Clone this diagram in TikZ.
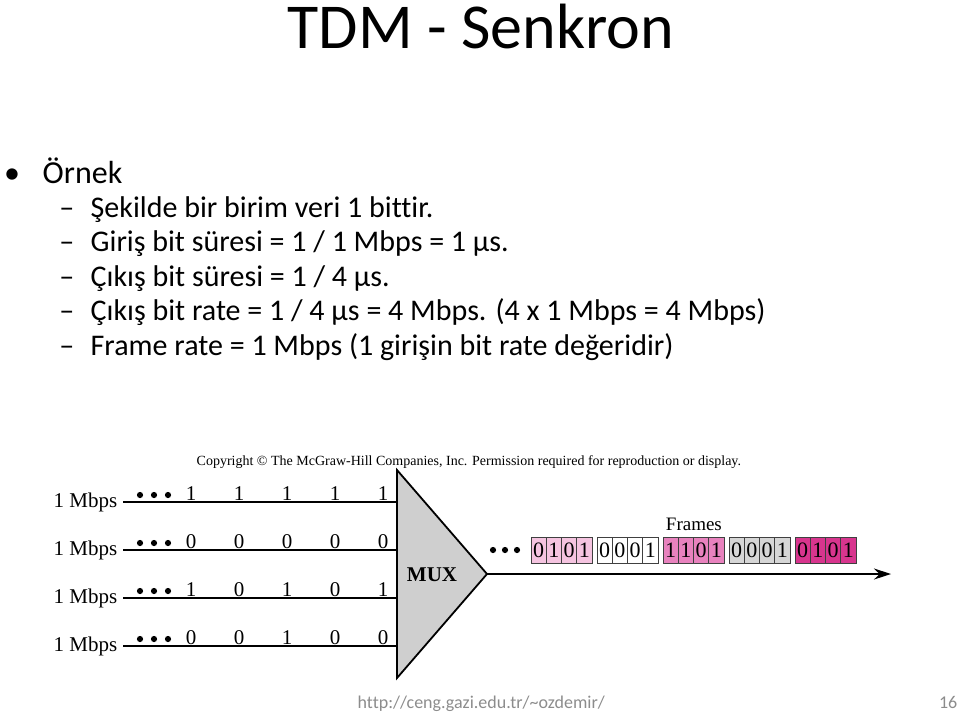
\documentclass[tikz,border=0pt]{standalone}
\usepackage{fontspec}
\setmainfont{Carlito}[Ligatures=CommonOff]
\newfontfamily\figfont{Liberation Serif}
\usetikzlibrary{positioning,arrows.meta,calc}

\definecolor{pinkA}{HTML}{F5C4E0}
\definecolor{pinkB}{HTML}{E882BE}
\definecolor{pinkC}{HTML}{D8358E}
\definecolor{grayA}{HTML}{D6D6D6}
\definecolor{muxgray}{HTML}{CFCFCF}
\definecolor{footgray}{HTML}{8C8C8C}

\begin{document}
\begin{tikzpicture}[
    x=1pt, y=-1pt,
    titletext/.style={inner sep=0pt, anchor=base, font=\fontsize{64}{70}\selectfont},
    itemtext/.style={inner sep=0pt, anchor=base west, font=\fontsize{32}{38}\selectfont},
    subtext/.style={inner sep=0pt, anchor=base west, font=\fontsize{30}{36}\selectfont},
    figtext/.style={inner sep=0pt, font=\figfont\fontsize{21}{24}\selectfont},
    bitlabel/.style={figtext, anchor=base},
    framecell/.style={rectangle, draw=black!75, line width=0.8pt, inner sep=0pt, minimum width=15.25pt, minimum height=26pt, font=\figfont\fontsize{22}{24}\selectfont},
    footer/.style={inner sep=0pt, font=\fontsize{18}{22}\selectfont, text=footgray},
    line width=1.4pt, black
    ]
    \useasboundingbox (0,0) rectangle (960,713);

    %Title and text
    \node[titletext] (title) at (481,48) {TDM - Senkron};
    \node[itemtext, anchor=base] (bullet) at (12,183) {•};
    \node[itemtext] (item) at (42,183) {Örnek};
    \node[subtext] (sub1) at (90,217)   {Şekilde bir birim veri 1 bittir.};
    \node[subtext] (sub2) at (90,251.5) {Giriş bit süresi = 1 / 1 Mbps = 1 µs.};
    \node[subtext] (sub3) at (90,286)   {Çıkış bit süresi = 1 / 4 µs.};
    \node[subtext] (sub4) at (90,320.5) {Çıkış bit rate = 1 / 4 µs = 4 Mbps. (4 x 1 Mbps = 4 Mbps)};
    \node[subtext] (sub5) at (90,355)   {Frame rate = 1 Mbps (1 girişin bit rate değeridir)};
    \foreach \s in {1,...,5}
        \node[subtext, left=15pt of sub\s.base west, anchor=base east] (dash\s) {–};

    % Copyright line
    \node[figtext, anchor=base west, font=\figfont\fontsize{14}{16}\selectfont] (copy) at (196,465)
        {Copyright © The McGraw-Hill Companies, Inc. Permission required for reproduction or display.};

    %MUX
    \coordinate (muxtop) at (397,470);
    \coordinate (muxbot) at (397,678);
    \coordinate (muxtip) at (487,574);
    \filldraw[fill=muxgray, line width=1.8pt, line join=miter] (muxtop) -- (muxtip) -- (muxbot) -- cycle;
    \node[figtext, font=\figfont\bfseries\fontsize{21}{24}\selectfont] (mux) at ($(muxtop)!0.5!(muxbot)+(35,1)$) {MUX};

    %Inputs
    \foreach \r/\bits in {1/{1,1,1,1,1}, 2/{0,0,0,0,0}, 3/{1,0,1,0,1}, 4/{0,0,1,0,0}} {
        \pgfmathsetmacro\ly{502+48*(\r-1)}
        \coordinate (in\r) at (123,\ly);
        \draw (in\r) -- (in\r -| muxtop);
        \node[figtext, left=5pt of in\r] (rate\r) {1 Mbps};
        \foreach \d in {0,1,2}
            \fill ({140+14*\d},\ly-7) circle (3.1);
        \foreach \b [count=\c] in \bits
            \node[bitlabel] (bit\r\c) at ({191+48*(\c-1)},\ly-2) {\b};
    }

    %Output frames
    \foreach \g/\bits/\col in {1/{0,1,0,1}/pinkA, 2/{0,0,0,1}/white, 3/{1,1,0,1}/pinkB, 4/{0,0,0,1}/grayA, 5/{0,1,0,1}/pinkC}
        \foreach \b [count=\c] in \bits
            \node[framecell, fill=\col] (fr\g\c) at ({531+66*(\g-1)+15.25*(\c-0.5)},550) {\b};
    \foreach \d in {0,1,2}
        \fill ({493+12*\d},550) circle (3.1);
    \node[figtext, font=\figfont\fontsize{19}{22}\selectfont, above=5pt of fr32.north east] (frames) {Frames};

    %Lines
    \coordinate (outend) at (891,574);
    \draw[-{Stealth[length=17pt, width=11pt]}] (muxtip) -- (outend);

    % Footer
    \node[footer, anchor=base west] (url) at (357,708) {http://ceng.gazi.edu.tr/\textasciitilde ozdemir/};
    \node[footer, anchor=base east] (page) at (958,708) {16};
\end{tikzpicture}
\end{document}
